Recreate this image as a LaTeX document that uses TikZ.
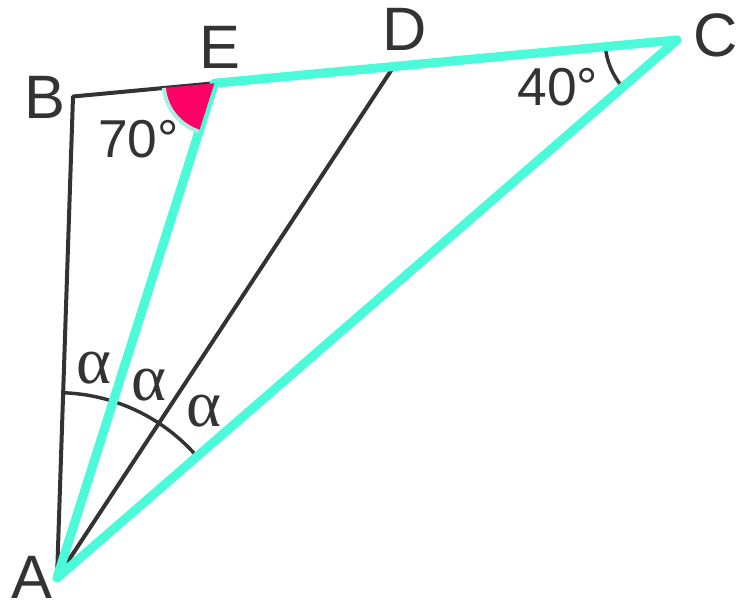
\documentclass[tikz,border=0pt]{standalone}
\usepackage{fontspec}
\setmainfont{Liberation Sans}
\newfontfamily\greekserif{Liberation Serif}
\usetikzlibrary{calc,angles}
\definecolor{turq}{HTML}{4BFAD9}
\definecolor{rose}{HTML}{FF0066}
\definecolor{paleturq}{HTML}{A8EEE2}
\definecolor{ink}{HTML}{333333}
\tikzset{
  blackline/.style = {draw=ink, line width=3pt, line cap=round, line join=round},
  turqline/.style  = {draw=turq, line width=6.8pt, line cap=round, line join=round},
  arcmark/.style   = {draw=ink, line width=2.6pt, angle radius=139pt},
  cmark/.style     = {draw=ink, line width=2.6pt, angle radius=54pt},
  emark/.style     = {draw=paleturq, fill=rose, line width=3pt, angle radius=38pt},
  ptlabel/.style   = {text=ink, inner sep=0pt, font=\fontsize{46}{46}\selectfont},
  deglabel/.style  = {text=ink, inner sep=0pt, font=\fontsize{40}{40}\selectfont},
  alabel/.style    = {text=ink, inner sep=0pt, font=\greekserif\fontsize{50}{50}\selectfont}
}

\begin{document}
\begin{tikzpicture}[x=0.75pt,y=0.75pt]
  \useasboundingbox (0,0) rectangle (743,605);
  % vertices
  \coordinate (A) at (57,27);
  \coordinate (B) at (73,508.5);
  \coordinate (C) at (677,565);
  \coordinate (E) at ($(B)!0.234!(C)$);
  \coordinate (D) at ($(B)!0.531!(C)$);

  % black sides
  \draw[blackline] (E) -- (B) -- (A);
  \draw[blackline] (A) -- (D);

  % angle arcs at A and C
  \pic[arcmark] {angle = C--A--D};
  \pic[arcmark] {angle = D--A--E};
  \pic[arcmark] {angle = E--A--B};
  \pic[cmark] {angle = B--C--A};

  % turquoise triangle
  \draw[turqline] (E) -- (C) -- (A) -- cycle;

  % marked angle at E
  \pic[emark] {angle = B--E--A};

  % labels
  \node[ptlabel] (labA) at (31.5,28) {A};
  \node[ptlabel] (labB) at (45,508) {B};
  \node[ptlabel] (labE) at (220,558) {E};
  \node[ptlabel] (labD) at (405,575.5) {D};
  \node[ptlabel] (labC) at (716,570) {C};
  \node[deglabel] (ang70) at (138.5,466) {70°};
  \node[deglabel] (ang40) at (558,517.5) {40°};
  \node[alabel] (alpha1) at (94,237) {α};
  \node[alabel] (alpha2) at (149,220) {α};
  \node[alabel] (alpha3) at (204,194) {α};
\end{tikzpicture}
\end{document}
